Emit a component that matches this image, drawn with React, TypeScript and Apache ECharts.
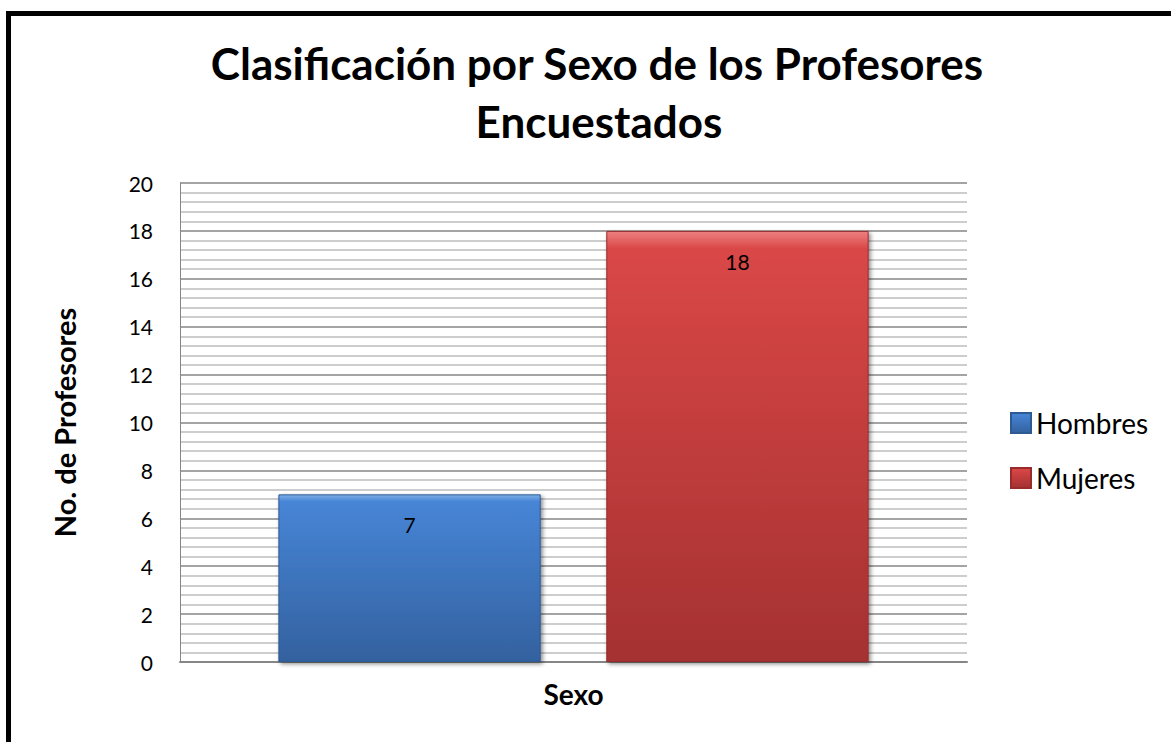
import React, { useEffect, useRef } from "react";
import * as echarts from "echarts";

const categories = ["Sexo"];
const seriesNames = ["Hombres", "Mujeres"];
const hombres = [7];
const mujeres = [18];
const titleLines = ["Clasificación por Sexo de los Profesores", "Encuestados"];
const yAxisName = "No. de Profesores";
const xAxisName = "Sexo";

const FONT = "Lato, 'Open Sans', sans-serif";

const grad = (top: string, mid: string, bottom: string) =>
  new echarts.graphic.LinearGradient(0, 0, 0, 1, [
    { offset: 0, color: top },
    { offset: 0.04, color: mid },
    { offset: 1, color: bottom },
  ]);

export default function App() {
  const ref = useRef<HTMLDivElement>(null);
  useEffect(() => {
    document.body.style.margin = "0";
    const chart = echarts.init(ref.current!, null, { renderer: "svg" });
    const barStyle = (top: string, mid: string, bottom: string, border: string) => ({
      color: grad(top, mid, bottom),
      borderColor: border,
      borderWidth: 1,
      shadowBlur: 4,
      shadowColor: "rgba(0,0,0,0.45)",
      shadowOffsetX: 2,
      shadowOffsetY: 2,
    });
    const labelStyle = {
      show: true,
      position: "insideTop",
      distance: 20,
      fontFamily: FONT,
      fontSize: 21,
      color: "#000",
    };
    chart.setOption({
      animation: false,
      backgroundColor: "#fff",
      title: [
        {
          text: titleLines[0],
          left: 592,
          top: 36,
          textAlign: "center",
          textStyle: { fontFamily: FONT, fontWeight: "bold", fontSize: 44, color: "#000" },
        },
        {
          text: titleLines[1],
          left: 594,
          top: 94,
          textAlign: "center",
          textStyle: { fontFamily: FONT, fontWeight: "bold", fontSize: 44, color: "#000" },
        },
      ],
      legend: {
        orient: "vertical",
        left: 1005,
        top: 404,
        itemWidth: 20,
        itemHeight: 20,
        itemGap: 27,
        icon: "rect",
        textStyle: { fontFamily: FONT, fontSize: 28, color: "#000" },
        data: seriesNames,
      },
      grid: { left: 180, right: 204, top: 183, bottom: 80 },
      xAxis: {
        type: "category",
        data: categories,
        name: xAxisName,
        nameLocation: "middle",
        nameGap: 18,
        nameTextStyle: { fontFamily: FONT, fontWeight: "bold", fontSize: 28, color: "#000" },
        axisLine: { lineStyle: { color: "#868686", width: 2 } },
        axisTick: { show: false },
        axisLabel: { show: false },
      },
      yAxis: {
        type: "value",
        min: 0,
        max: 20,
        interval: 2,
        name: yAxisName,
        nameLocation: "middle",
        nameGap: 101,
        nameTextStyle: { fontFamily: FONT, fontWeight: "bold", fontSize: 29, color: "#000" },
        axisLine: { show: true, lineStyle: { color: "#868686", width: 1 } },
        axisTick: { show: false },
        axisLabel: { fontFamily: FONT, fontSize: 21, color: "#000", margin: 27 },
        splitLine: { show: true, lineStyle: { color: "#868686", width: 1.5 } },
        minorTick: { show: false, splitNumber: 5 },
        minorSplitLine: { show: true, lineStyle: { color: "#bdbdbd", width: 1.5 } },
      },
      series: [
        {
          name: seriesNames[0],
          type: "bar",
          data: hombres,
          barCategoryGap: "25%",
          barGap: "25%",
          itemStyle: barStyle("#7fb0ea", "#4785d6", "#33619f", "#2e5a94"),
          label: labelStyle,
        },
        {
          name: seriesNames[1],
          type: "bar",
          data: mujeres,
          barCategoryGap: "25%",
          barGap: "25%",
          itemStyle: barStyle("#ee8080", "#da4747", "#a53131", "#982c2c"),
          label: labelStyle,
        },
      ],
      graphic: [
        {
          type: "rect",
          silent: true,
          z: 100,
          shape: { x: 8.5, y: 13.5, width: 2000, height: 2000 },
          style: { fill: "none", stroke: "#000", lineWidth: 5 },
        },
      ],
    });
    return () => chart.dispose();
  }, []);
  return <div ref={ref} style={{ width: 1171, height: 742 }} />;
}
